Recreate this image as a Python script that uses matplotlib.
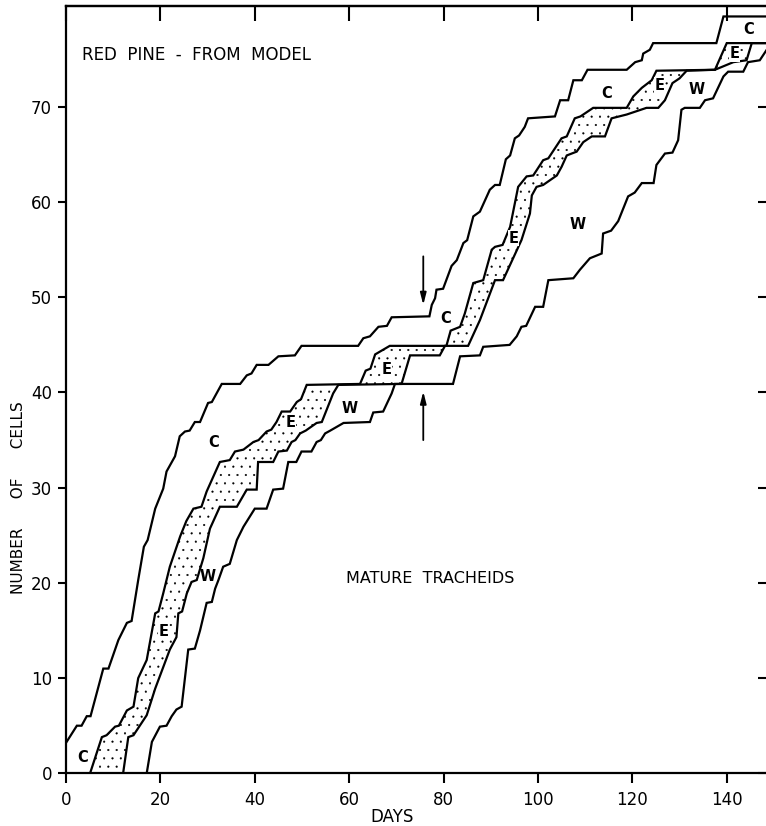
import matplotlib
matplotlib.use('Agg')
import matplotlib.pyplot as plt
import numpy as np

plt.rcParams['font.family'] = ['DejaVu Sans']
plt.rcParams['hatch.linewidth'] = 0.3
plt.rcParams['hatch.color'] = 'black'

# ---- data (days, number of cells) ----
# outer boundary (top of cambial zone C)
A_days = [0, 2.3, 3.3, 4.4, 5.2, 7.9, 9.0, 11.1, 12.9, 13.9, 15.3, 16.5, 17.3, 18.9, 20.6, 21.3,
          23.1, 24.1, 25.2, 26.2, 27.3, 28.4, 30.1, 30.9, 33.0, 36.9, 38.3, 39.3, 40.4, 42.9,
          45.0, 48.5, 49.9, 61.9, 63.0, 64.4, 66.2, 68.0, 69.0, 77.0, 77.5, 78.2, 78.5, 79.9,
          81.7, 82.8, 84.2, 85.0, 86.3, 87.7, 89.8, 90.9, 91.9, 93.2, 94.1, 95.1, 96.0, 97.2,
          97.9, 103.6, 104.7, 106.4, 107.5, 109.3, 110.5, 118.8, 120.6, 122.0, 122.3, 123.7,
          124.4, 137.8, 139.3, 149.8]
A_cells = [3.2, 5, 5, 6, 6, 11, 11, 14, 15.8, 16, 20.3, 23.8, 24.5, 27.8, 29.9, 31.7,
           33.3, 35.4, 35.9, 36, 36.9, 36.9, 38.9, 39, 40.9, 40.9, 41.8, 42, 42.9, 42.9,
           43.8, 43.9, 44.9, 44.9, 45.7, 45.9, 46.9, 47, 47.9, 48, 49.2, 49.9, 50.8, 50.9,
           53.3, 53.9, 55.7, 56, 58.5, 59, 61.3, 61.8, 61.8, 64.5, 64.9, 66.7, 67, 67.9,
           68.8, 69, 70.7, 70.7, 72.8, 72.8, 73.9, 73.9, 74.7, 74.9, 75.6, 76,
           76.7, 76.7, 79.5, 79.5]

# boundary cambial zone / enlarging zone (top of E)
B_days = [5.1, 7.6, 8.6, 10.4, 11.2, 12.9, 14.3, 15.3, 17.1, 18.9, 19.6, 20.6, 22.0, 24.2, 25.5,
          27.0, 28.7, 29.8, 32.6, 34.7, 35.8, 37.6, 39.7, 40.8, 42.5, 43.5, 44.6, 45.7, 47.5,
          48.9, 49.8, 51.0, 62.3, 63.5, 64.5, 65.5, 68.6, 80.6, 81.5, 83.5, 84.5, 86.3, 88.4,
          90.2, 90.9, 92.5, 94.1, 95.8, 97.6, 99.0, 101.1, 102.2, 105.0, 106.1, 107.8, 109.0,
          111.7, 118.8, 120.2, 122.0, 124.1, 125.1, 137.5, 140.0, 149.8]
B_cells = [0, 3.8, 4, 4.9, 5, 6.6, 7, 10, 11.9, 16.8, 17, 18.9, 21.7, 24.9, 26.5,
           27.8, 28, 29.6, 32.7, 32.9, 33.8, 34, 34.8, 35, 35.9, 36.1, 36.9, 38, 38,
           39, 39.3, 40.8, 40.9, 42.3, 42.5, 44, 44.9, 44.9, 46.5, 46.9, 48.3, 51.5, 51.8,
           55, 55.3, 55.5, 57.4, 61.6, 62.7, 62.8, 64.4, 64.6, 66.7, 66.9, 68.8, 69,
           69.9, 69.9, 71.1, 72, 72.8, 73.8, 73.9, 76.7, 76.7]

# boundary enlarging zone / wall-thickening zone (top of W)
C_days = [12.1, 13.2, 14.3, 17.1, 18.9, 22.0, 23.4, 23.8, 24.6, 25.6, 26.6, 27.7, 29.1, 30.5,
          32.6, 36.2, 38.3, 40.4, 40.7, 43.9, 45.0, 46.8, 47.8, 48.6, 49.6, 50.8, 53.1, 54.2,
          56.6, 57.7, 71.1, 72.9, 79.2, 80.3, 85.2, 87.7, 90.9, 92.6, 96.5, 98.3, 98.7, 99.7,
          101.1, 104.0, 105.0, 106.1, 108.2, 109.6, 111.4, 114.2, 115.6, 118.8, 123.0, 125.5,
          126.9, 128.5, 130.0, 131.5, 137.5, 141.4, 144.2, 145.3, 149.8]
C_cells = [0, 3.8, 4, 6.1, 8.9, 13, 14.3, 16.8, 17, 18.9, 20.1, 20.3, 22.6, 25.7,
           28, 28, 29.8, 29.8, 32.7, 32.7, 33.8, 33.9, 34.8, 35, 35.7, 36, 36.8, 36.9,
           39.9, 40.8, 40.9, 43.9, 43.9, 44.9, 44.9, 47.6, 51.8, 51.8, 56, 58.8, 60.7, 61.6,
           61.8, 62.8, 63.7, 64.9, 65.3, 66.3, 66.9, 66.9, 68.8, 69.2, 69.9, 69.9,
           70.7, 72.5, 73, 73.8, 73.9, 74.7, 74.9, 76.7, 76.7]

# boundary wall-thickening zone / mature tracheids (top of mature)
D_days = [17.1, 18.2, 19.9, 21.3, 22.4, 23.4, 24.5, 25.9, 27.3, 28.4, 29.8, 30.9, 31.6, 32.3,
          33.3, 34.7, 36.2, 37.6, 40.0, 42.5, 43.9, 46.0, 47.1, 48.8, 49.9, 52.0, 53.1, 54.0,
          54.9, 56.0, 58.8, 64.4, 65.1, 67.2, 69.0, 69.7, 82.0, 83.5, 87.7, 88.4, 94.0, 95.5,
          96.5, 97.5, 99.4, 101.1, 102.2, 107.5, 108.9, 111.0, 113.5, 113.8, 115.5, 117.0,
          119.1, 120.5, 122.0, 124.5, 125.1, 126.9, 128.5, 129.7, 130.4, 131.1, 134.3, 135.4,
          137.1, 139.3, 140.3, 143.5, 144.5, 147.0, 149.8]
D_cells = [0, 3.3, 4.9, 5, 6, 6.7, 7, 13, 13.1, 15, 17.9, 18, 19.4, 20.3,
           21.7, 22, 24.5, 25.9, 27.8, 27.8, 29.8, 29.9, 32.7, 32.7, 33.8, 33.8, 34.8, 35,
           35.7, 36, 36.8, 36.9, 37.9, 38, 39.9, 40.9, 40.9, 43.8, 43.9, 44.8, 45, 45.9,
           46.9, 47, 49, 49, 51.8, 52, 52.9, 54.1, 54.6, 56.7, 57, 58,
           60.6, 61, 62, 62, 63.9, 65.1, 65.2, 66.5, 69.7, 69.9, 69.9, 70.7,
           70.9, 73.2, 73.7, 73.7, 74.7, 74.9, 77]

xticks = [0, 20, 40, 60, 80, 100, 120, 140]
yticks = [0, 10, 20, 30, 40, 50, 60, 70]
ytick_labels = ['0', '10', '20', '30', '40', '50', '60', '70']

zone_labels = ['C', 'E', 'W', 'C', 'E', 'W', 'E', 'C', 'E', 'W', 'C', 'E', 'W', 'C', 'E']
zone_days = [3.5, 20.6, 30.1, 31.2, 47.5, 60.2, 67.9, 80.5, 94.8, 108.5, 114.5, 125.8, 133.6, 144.6, 141.7]
zone_cells = [1.7, 14.9, 20.7, 34.8, 36.9, 38.3, 42.4, 47.8, 56.2, 57.6, 71.4, 72.3, 71.8, 78.1, 75.6]

arrow_day = [75.7, 75.7]
arrow_from = [54.3, 35.0]
arrow_to = [49.2, 40.1]

# ---- figure ----
W, H = 766, 826
fig = plt.figure(figsize=(W / 100, H / 100), dpi=100)
x0, x1, y0, y1 = 66, 773, 773.3, 5.7
ax = fig.add_axes([x0 / W, (H - y0) / H, (x1 - x0) / W, (y0 - y1) / H])
xmax = 149.8
ymax = (y0 - y1) / 9.52
ax.set_xlim(0, xmax)
ax.set_ylim(0, ymax)

# stippled enlarging zone
px = np.concatenate([B_days, C_days[::-1]])
py = np.concatenate([B_cells, C_cells[::-1]])
ax.fill(px, py, facecolor='white', edgecolor='black', hatch='..', linewidth=0, zorder=1)

for d, c in [(A_days, A_cells), (B_days, B_cells), (C_days, C_cells), (D_days, D_cells)]:
    ax.plot(d, c, color='black', lw=1.6, solid_joinstyle='miter', zorder=3)

for lab, d, c in zip(zone_labels, zone_days, zone_cells):
    ax.text(d, c, lab, ha='center', va='center', fontsize=10.5, fontweight='bold', zorder=4,
            bbox=dict(facecolor='white', edgecolor='none', pad=0.3) if lab == 'E' else None)

ax.text(3.4, 74.9, 'RED  PINE  -  FROM  MODEL', ha='left', va='baseline', fontsize=12)
ax.text(77.1, 20.5, 'MATURE  TRACHEIDS', ha='center', va='center', fontsize=11.5)

for d, f, t in zip(arrow_day, arrow_from, arrow_to):
    ax.annotate('', xy=(d, t), xytext=(d, f),
                arrowprops=dict(arrowstyle='-|>,head_width=0.18,head_length=0.7',
                                color='black', lw=1.3, shrinkA=0, shrinkB=0))

for s in ax.spines.values():
    s.set_linewidth(1.6)

ax.set_xticks(xticks)
ax.set_xticklabels([str(v) for v in xticks])
ax.set_yticks(yticks)
ax.set_yticklabels(ytick_labels)
ax.tick_params(axis='x', direction='out', length=7, width=1.5, labelsize=12, pad=6)
ax.tick_params(axis='y', direction='out', length=6, width=1.5, labelsize=12, pad=4)

secx = ax.secondary_xaxis('top')
secx.set_xticks(xticks)
secx.tick_params(axis='x', direction='in', length=11, width=1.5, labeltop=False)
secx.spines['top'].set_linewidth(1.6)
secy = ax.secondary_yaxis('right')
secy.set_yticks(yticks)
secy.tick_params(axis='y', direction='in', length=11, width=1.5, labelright=False)

fig.text(392 / W, 1 - 817 / H, 'DAYS', ha='center', va='center', fontsize=12)
fig.text(19 / W, 1 - 498 / H, 'NUMBER      OF      CELLS', ha='center', va='center',
         rotation=90, fontsize=11)

fig.savefig('out.png', dpi=100)
